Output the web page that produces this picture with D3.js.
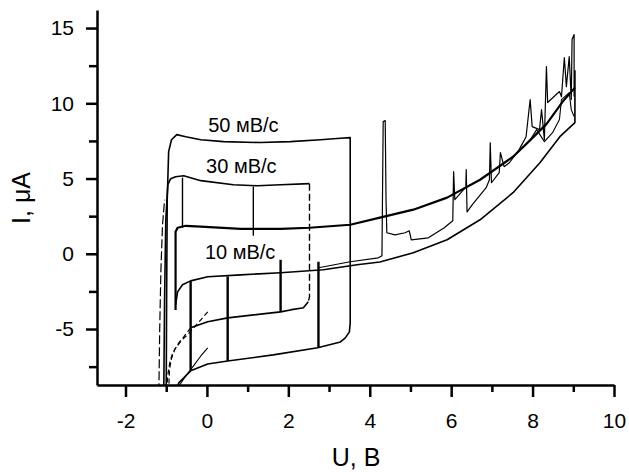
<!DOCTYPE html>
<html>
<head>
<meta charset="utf-8">
<script src="https://cdn.jsdelivr.net/npm/d3@7"></script>
<style>
  html, body { margin: 0; padding: 0; background: #fff; }
  svg { display: block; font-family: "Liberation Sans", Arial, sans-serif; }
</style>
</head>
<body>
<svg id="chart" width="629" height="472"></svg>
<script>
// Axis ticks
const xMajor = [-2, 0, 2, 4, 6, 8, 10];
const xMinor = [-1, 1, 3, 5, 7, 9];
const yMajor = [-5, 0, 5, 10, 15];
const yMinor = [-7.5, -2.5, 2.5, 7.5, 12.5];

// Scan-rate labels
const rateLabels = ["50 мВ/с", "30 мВ/с", "10 мВ/с"];

// Voltammograms, [U (В), I (µA)]
const loop50 = [[-1.00,-9.2],[-0.99,-3.06],[-0.975,3.59],[-0.94,6.79],[-0.87,7.58],[-0.74,7.92],[-0.52,7.78],[-0.15,7.58],[0.41,7.45],[1.32,7.39],[2.05,7.45],[2.79,7.58],[3.28,7.68],[3.52,7.72],[3.52,-4.59],[3.50,-5.19],[3.40,-5.59],[3.28,-5.86],[2.72,-6.25],[1.63,-6.72],[0.51,-7.12],[0.02,-7.32],[-0.40,-7.78],[-0.69,-8.58],[-0.79,-9.2]];

const loop30Forward = [[-1.06,-9.2],[-1.04,-3.06],[-1.01,2.26],[-0.96,4.59],[-0.89,4.99],[-0.77,5.12],[-0.57,5.19],[-0.15,4.86],[0.65,4.59],[1.24,4.52],[1.81,4.59],[2.52,4.66]];
const loop30Turn = [[2.52,4.66],[2.52,-2.86],[2.49,-3.19]];
const loop30Return = [[2.49,-3.19],[2.37,-3.59],[2.05,-3.73],[1.81,-3.86],[0.51,-4.26],[0.02,-4.52],[-0.40,-4.92]];
const loop30Tail = [[-0.40,-4.92],[-0.57,-5.52],[-0.69,-5.92],[-0.84,-6.59],[-0.91,-7.19],[-0.96,-8.05],[-0.99,-9.2]];
const loop30Tail2 = [[0.02,-3.86],[-0.15,-4.39],[-0.30,-4.85],[-0.45,-5.30],[-0.62,-5.75],[-0.78,-6.30],[-0.87,-6.95],[-0.92,-7.70],[-0.94,-9.2]];
const riseDashed = [[-1.18,-9.2],[-1.16,-5.06],[-1.13,-1.06],[-1.09,1.93],[-1.04,3.59]];
const tailLow = [[0.02,-6.25],[-0.15,-6.79],[-0.33,-7.45],[-0.52,-8.12],[-0.69,-8.8]];

const wideUpper = [[-0.77,-3.73],[-0.77,1.46],[-0.72,1.73],[-0.52,1.86],[-0.15,1.80],[0.83,1.66],[1.81,1.66],[2.52,1.73],[3.52,1.93],[4.25,2.40],[5.07,2.93],[5.90,3.73],[6.71,4.92],[7.52,6.45],[7.93,7.52],[8.35,8.65],[8.74,10.11],[9.04,11.04]];

const wideLower = [[-0.77,-3.39],[-0.72,-2.53],[-0.60,-2.06],[-0.40,-1.80],[0.02,-1.53],[0.83,-1.40],[1.81,-1.26],[2.86,-1.06],[3.69,-0.73],[4.25,-0.55],[5.07,0.07],[5.90,0.93],[6.71,2.26],[7.52,4.06],[8.18,6.05],[8.67,7.78],[9.04,8.72],[9.04,12.2]];

const wideNoisy = [[2.74,-0.93],[3.52,-0.53],[4.21,-0.27],[4.30,-0.13],[4.33,8.78],[4.38,8.85],[4.40,3.59],[4.42,1.40],[4.62,1.26],[4.87,1.40],[4.97,1.53],[5.02,0.93],[5.44,1.06],[5.83,1.73],[6.04,2.2],[6.06,5.46],[6.09,3.6],[6.30,4.25],[6.36,4.4],[6.37,5.6],[6.39,2.79],[6.52,3.26],[6.86,4.39],[6.94,4.92],[6.96,7.38],[6.99,4.72],[7.18,5.39],[7.21,6.72],[7.30,5.79],[7.43,6.05],[7.67,6.92],[7.84,7.78],[7.94,10.25],[7.99,8.45],[8.17,8.25],[8.22,9.58],[8.29,7.58],[8.34,12.44],[8.37,10.05],[8.66,10.78],[8.71,10.44],[8.78,13.04],[8.83,11.11],[8.90,13.1],[8.95,10.25],[8.97,14.24],[9.02,14.57],[9.02,10.45]];

const wideNoisy2 = [[7.95,7.6],[8.10,8.25],[8.29,7.45],[8.49,8.05],[8.66,8.92],[8.71,10.25],[8.90,10.71],[8.95,9.58],[9.02,9.12]];

// Current jumps at fixed potentials
const stepsThick = [
  [[-0.40,-1.80],[-0.40,-7.72]],
  [[0.51,-1.50],[0.51,-7.12]],
  [[1.81,-0.40],[1.81,-3.86]],
  [[2.74,-0.53],[2.74,-6.25]]
];
const stepsThin = [
  [[1.14,4.46],[1.14,1.2]],
  [[-0.60,5.06],[-0.60,1.73]]
];

const svg = d3.select("#chart");
const plotLeft = 97, plotRight = 614, plotTop = 10, plotBottom = 385;

const x = d3.scaleLinear().domain([-2.7, 10]).range([plotLeft, plotRight]);
const y = d3.scaleLinear().domain([-8.72, 16.2]).range([plotBottom, plotTop]);

svg.append("defs").append("clipPath").attr("id", "plot")
  .append("rect").attr("x", plotLeft).attr("y", 0)
  .attr("width", plotRight - plotLeft + 10).attr("height", plotBottom);

const line = d3.line().x(d => x(d[0])).y(d => y(d[1]));
const curves = svg.append("g").attr("clip-path", "url(#plot)")
  .attr("fill", "none").attr("stroke", "#000").attr("stroke-linejoin", "round");

function draw(data, width, dash) {
  curves.append("path").attr("d", line(data))
    .attr("stroke-width", width)
    .attr("stroke-dasharray", dash || null);
}

draw(loop50, 1.6);
draw(loop30Forward, 1.6);
draw(loop30Turn, 1.4, "7,3");
draw(loop30Return, 1.6);
draw(loop30Tail, 1.2, "5,3");
draw(loop30Tail2, 1.2, "5,3");
draw(riseDashed, 1.2, "9,3");
draw(tailLow, 1.1);
draw(wideUpper, 2.2);
draw(wideLower, 1.6);
draw(wideNoisy, 1.2);
draw(wideNoisy2, 1.1);
stepsThick.forEach(s => draw(s, 2.4));
stepsThin.forEach(s => draw(s, 1.4));

// Scan-rate labels
const labelAt = [[0.03, 8.1], [-0.02, 5.37], [-0.05, -0.35]];
svg.append("g").selectAll("text").data(rateLabels).join("text")
  .attr("x", (d, i) => x(labelAt[i][0]))
  .attr("y", (d, i) => y(labelAt[i][1]))
  .attr("font-size", 20)
  .text(d => d);

// Axes (plain hyphen for negative tick labels)
const plain = d => String(d);
function styleAxis(g) {
  g.select(".domain").attr("stroke-width", 2.5);
  g.selectAll(".tick line").attr("stroke-width", 2.5);
  g.selectAll(".tick text").attr("font-size", 21).attr("fill", "#000");
}

svg.append("g").attr("transform", `translate(0,${plotBottom})`)
  .call(d3.axisBottom(x).tickValues(xMinor).tickSize(7).tickSizeOuter(0).tickFormat(""))
  .call(g => { g.select(".domain").remove(); g.selectAll(".tick line").attr("stroke-width", 2.5); });
svg.append("g").attr("transform", `translate(0,${plotBottom})`)
  .call(d3.axisBottom(x).tickValues(xMajor).tickSize(12).tickSizeOuter(0).tickPadding(16).tickFormat(plain))
  .call(styleAxis);

svg.append("g").attr("transform", `translate(${plotLeft},0)`)
  .call(d3.axisLeft(y).tickValues(yMinor).tickSize(8).tickSizeOuter(0).tickFormat(""))
  .call(g => { g.select(".domain").remove(); g.selectAll(".tick line").attr("stroke-width", 2.5); });
svg.append("g").attr("transform", `translate(${plotLeft},0)`)
  .call(d3.axisLeft(y).tickValues(yMajor).tickSize(11).tickSizeOuter(0).tickPadding(12).tickFormat(plain))
  .call(styleAxis);

// Axis titles
svg.append("text").attr("x", 356).attr("y", 466).attr("text-anchor", "middle")
  .attr("font-size", 25).text("U, В");
svg.append("text").attr("transform", "translate(30,198) rotate(-90)").attr("text-anchor", "middle")
  .attr("font-size", 25).text("I, μA");
</script>
</body>
</html>
